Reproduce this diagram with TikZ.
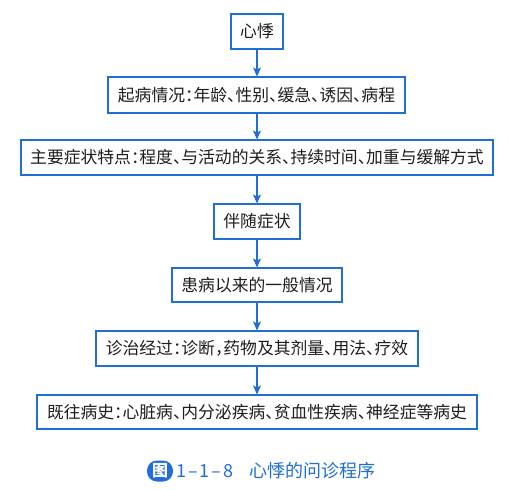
\documentclass[tikz,border=0pt]{standalone}
\usepackage{fontspec}
\setmainfont{Noto Sans CJK SC}
\newfontfamily\cjk[RawFeature=+halt]{Noto Sans CJK SC}
\newfontfamily\cjkcap{Noto Sans CJK SC}
\usetikzlibrary{arrows.meta}
\definecolor{bblue}{RGB}{32,110,215}
\definecolor{txt}{RGB}{30,30,30}
\tikzset{
  stepbox/.style={draw=bblue, line width=1.1pt, fill=white, text=txt, inner sep=0pt,
    minimum height=35pt, font=\cjk\fontsize{16.8}{18}\selectfont},
  flow/.style={draw=bblue, line width=1.3pt, -{Stealth[length=9pt,width=8pt,inset=2pt]}},
  captext/.style={anchor=west, text=bblue, inner sep=0pt, font=\cjkcap\fontsize{18}{19}\selectfont},
}
\begin{document}
\begin{tikzpicture}[x=1pt,y=-1pt]
\useasboundingbox (0,0) rectangle (509,490);
\fill[white] (0,0) rectangle (509,490);
\node[stepbox, minimum width=52pt] (a) at (257,31.5) {心悸};
\node[stepbox, minimum width=297pt, minimum height=36pt] (b) at (256.5,95) {起病情况：年龄、性别、缓急、诱因、病程};
\node[stepbox, minimum width=472pt] (c) at (257,157.5) {主要症状特点：程度、与活动的关系、持续时间、加重与缓解方式};
\node[stepbox, minimum width=86pt] (d) at (257,221.5) {伴随症状};
\node[stepbox, minimum width=170pt, minimum height=34pt] (e) at (257,285) {患病以来的一般情况};
\node[stepbox, minimum width=322pt] (f) at (257,348.5) {诊治经过：诊断，药物及其剂量、用法、疗效};
\node[stepbox, minimum width=440pt, minimum height=34pt] (g) at (257,412) {既往病史：心脏病、内分泌疾病、贫血性疾病、神经症等病史};
\draw[flow] (a.south -| 257,0) -- (b.north -| 257,0);
\draw[flow] (b.south -| 257,0) -- (c.north -| 257,0);
\draw[flow] (c) -- (d);
\draw[flow] (d) -- (e);
\draw[flow] (e) -- (f);
\draw[flow] (f) -- (g);
\node[rectangle, rounded corners=10pt, fill=bblue, text=white, inner sep=0pt, minimum width=26pt, minimum height=21pt, font=\cjkcap\bfseries\fontsize{16}{17}\selectfont] (fig) at (160,471) {图};
\node[captext] (num) at (176,471) {1\kern2pt–\kern2pt1\kern2pt–\kern2pt8};
\node[captext] (cap) at (249,471) {心悸的问诊程序};
\end{tikzpicture}
\end{document}
